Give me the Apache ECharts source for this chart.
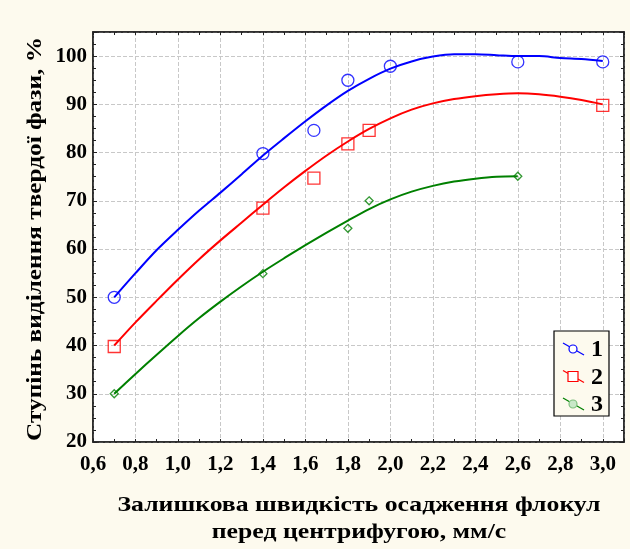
<!DOCTYPE html>
<html><head><meta charset="utf-8">
<script src="https://cdn.jsdelivr.net/npm/echarts@6/dist/echarts.min.js"></script>
<style>html,body{margin:0;padding:0;background:#FDFAEE;}#c{width:630px;height:549px;}</style>
</head><body><div id="c"></div>
<script>
const seriesNames = ['1', '2', '3'];
const colors = ['#0000FF', '#FF0000', '#008000'];
const xTitle = 'Залишкова швидкість осадження флокул\nперед центрифугою, мм/с';
const yTitle = 'Ступінь виділення твердої фази, %';

// measured points
const pts1 = [[0.7,50],[1.4,79.8],[1.64,84.6],[1.8,95.0],[2.0,97.9],[2.6,98.8],[3.0,98.8]];
const pts2 = [[0.7,39.8],[1.4,68.5],[1.64,74.7],[1.8,81.8],[1.9,84.6],[3.0,89.8]];
const pts3 = [[0.7,30],[1.4,54.9],[1.8,64.3],[1.9,70.0],[2.6,75.1]];

// fitted curves
const curveX = [0.7,0.8,0.9,1.0,1.1,1.2,1.3,1.4,1.5,1.6,1.7,1.8,1.9,2.0,2.1,2.2,2.3,2.4,2.5,2.6,2.7,2.8,2.9,3.0];
const curve1 = [50,55.0,59.8,64.0,68.0,71.7,75.5,79.4,83.0,86.5,89.8,92.8,95.3,97.4,98.9,99.9,100.4,100.4,100.2,100,100,99.6,99.4,99.0];
const curve2 = [40,44.8,49.3,53.7,57.9,61.8,65.5,69.2,72.8,76.2,79.4,82.3,84.9,87.1,88.9,90.2,91.1,91.7,92.1,92.3,92.1,91.6,90.9,90.0];
const curve3 = [30,34.1,38.1,42.0,45.7,49.1,52.3,55.3,58.1,60.8,63.4,65.9,68.3,70.3,71.9,73.1,74.0,74.6,75.0,75.1];

const chart = echarts.init(document.getElementById('c'), null, {renderer:'canvas'});
const font = 'Liberation Serif';
const zip = (xs, ys) => ys.map((y,i)=>[xs[i], y]);
const curves = [curve1, curve2, curve3];
const pts = [pts1, pts2, pts3];
const symbols = ['circle', 'rect', 'diamond'];
const symSizes = [12, 12, 8];

const series = [];
curves.forEach((c, i) => {
  series.push({type:'line', data: zip(curveX, c), smooth: 0.3, showSymbol:false, symbol:'none',
    lineStyle:{color: colors[i], width: 2}, z: 2, silent:true});
});
pts.forEach((p, i) => {
  series.push({type:'scatter', name: seriesNames[i], data: p, symbol: symbols[i], symbolSize: symSizes[i],
    itemStyle:{color:'rgba(0,0,0,0)', borderColor: colors[i], borderWidth: 1.3}, z: 3});
});

// legend as graphic
const lg = [];
const bx = 554, by = 331;
lg.push({type:'rect', shape:{x:bx, y:by, width:55, height:85}, style:{fill:'#FDFAEE', stroke:'#000', lineWidth:1.2}, z:100});
const legFill = ['#FFFFFF', '#FFFFFF', '#C8E8C8'];
seriesNames.forEach((n, i) => {
  const cy = by + 18 + i * 27.5;
  lg.push({type:'line', shape:{x1:bx+9, y1:cy-6, x2:bx+30, y2:cy+6}, style:{stroke: colors[i], lineWidth:1.2}, z:101});
  if (i !== 1) {
    lg.push({type:'circle', shape:{cx:bx+19, cy:cy, r:4}, style:{fill:legFill[i], stroke: i===2 ? '#7FC07F' : colors[i], lineWidth:1.2}, z:102});
  } else {
    lg.push({type:'rect', shape:{x:bx+14, y:cy-5, width:10, height:10}, style:{fill:'#FFFFFF', stroke: colors[i], lineWidth:1.2}, z:102});
  }
  lg.push({type:'text', x: bx+43, y: cy+1, style:{text:n, font:'bold 24px "Liberation Serif"', fill:'#000', align:'center', verticalAlign:'middle'}, z:102});
});
lg.push({type:'text', x: 359, y: 519, scaleX: 1.17, style:{text: xTitle, font:'bold 22px "Liberation Serif"', fill:'#000', align:'center', verticalAlign:'middle', lineHeight: 27}, z:10});
lg.push({type:'text', x: 35, y: 239, rotation: Math.PI/2, scaleX: 1.15, style:{text: yTitle, font:'bold 22px "Liberation Serif"', fill:'#000', align:'center', verticalAlign:'middle'}, z:10});

const fmtX = v => { const r = Math.round(v*10); if (r % 2 !== 0 || r > 30) return ''; return (r/10).toFixed(1).replace('.', ','); };
const fmtY = v => (Math.abs(v % 10) < 1e-6 && v <= 100) ? String(v) : '';

chart.setOption({
  backgroundColor:'#FDFAEE',
  animation:false,
  grid:{left:93, top:32, width:531, height:410, show:true, backgroundColor:'#FFFFFF', borderColor:'#222', borderWidth:1.5},
  xAxis:[{type:'value', min:0.6, max:3.1, interval:0.2, position:'bottom',
    axisLine:{show:true, onZero:false, lineStyle:{color:'#222', width:1.5}},
    axisTick:{show:true, inside:true, length:3, lineStyle:{color:'#222'}},
    minorTick:{show:true, splitNumber:2, length:3, lineStyle:{color:'#222'}},
    axisLabel:{formatter: fmtX, fontFamily: font, fontWeight:'bold', fontSize:21, color:'#000', margin:12},
    splitLine:{show:true, lineStyle:{color:'#C8C8C8', type:[4,2], width:1}}},
   {type:'value', min:0.6, max:3.1, interval:0.2, position:'top',
    axisLine:{show:true, lineStyle:{color:'#222', width:1.5}},
    axisTick:{show:true, inside:true, length:3, lineStyle:{color:'#222'}},
    minorTick:{show:true, splitNumber:2, length:3, lineStyle:{color:'#222'}},
    axisLabel:{show:false}, splitLine:{show:false}}],
  yAxis:[{type:'value', min:20, max:105, interval:10,
    axisLine:{show:true, onZero:false, lineStyle:{color:'#222', width:1.5}},
    axisTick:{show:true, inside:true, length:4, lineStyle:{color:'#222'}},
    minorTick:{show:true, splitNumber:4, length:3, lineStyle:{color:'#222'}},
    axisLabel:{formatter: fmtY, fontFamily: font, fontWeight:'bold', fontSize:21, color:'#000', margin:6},
    splitLine:{show:true, lineStyle:{color:'#C8C8C8', type:[4,2], width:1}}},
   {type:'value', min:20, max:105, interval:10, position:'right',
    axisLine:{show:true, lineStyle:{color:'#222', width:1.5}},
    axisTick:{show:true, inside:true, length:4, lineStyle:{color:'#222'}},
    minorTick:{show:true, splitNumber:4, length:3, lineStyle:{color:'#222'}},
    axisLabel:{show:false}, splitLine:{show:false}}],
  series: series,
  graphic: lg
});
</script></body></html>
